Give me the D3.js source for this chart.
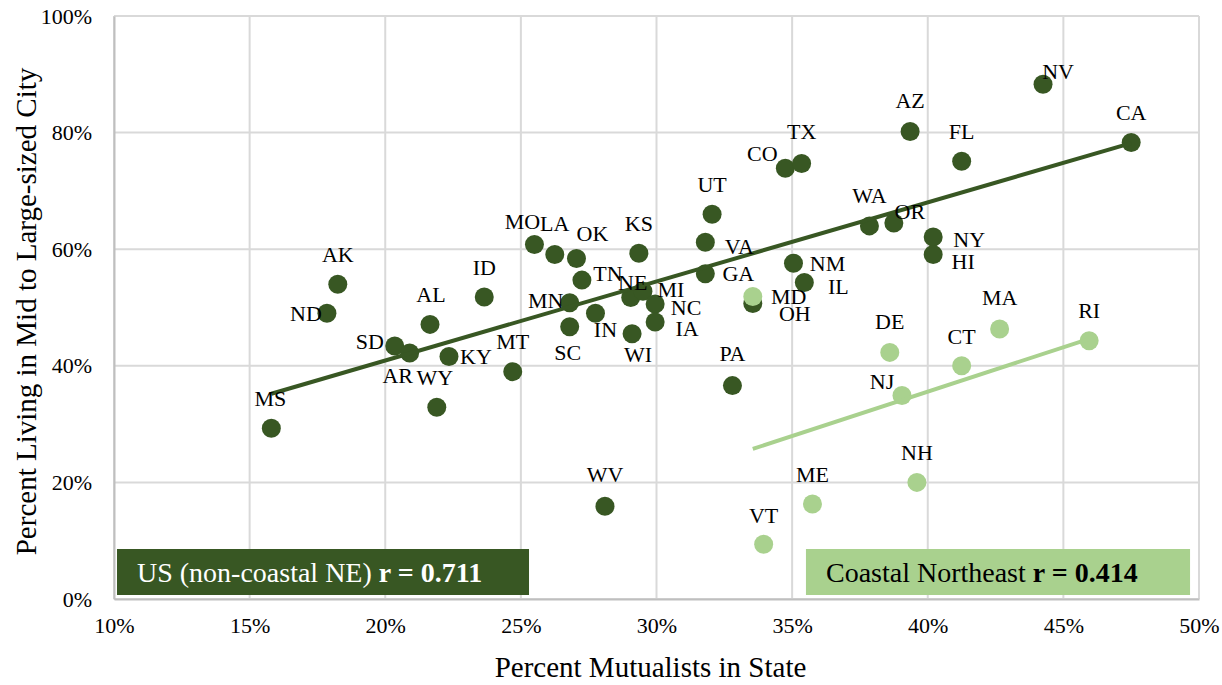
<!DOCTYPE html>
<html>
<head>
<meta charset="utf-8">
<script src="https://cdn.jsdelivr.net/npm/d3@7"></script>
<style>
  body { margin: 0; background: #fff; }
</style>
</head>
<body>
<div id="viz-container"></div>
<script>
// data (percent values)
let states = ['MS','ND','AK','SD','AR','AL','WY','KY','ID','MT','MO','LA','OK','KS','TN','NE','MI','MN','SC','IN','NC','IA','WI','UT','VA','GA','OH','PA','CO','TX','AZ','FL','WA','OR','NY','HI','NM','IL','NV','CA','WV',
              'MD','DE','CT','MA','RI','NJ','NH','ME','VT'];
let mutualists = [15.8,17.85,18.25,20.35,20.9,21.65,21.9,22.35,23.65,24.7,25.5,26.25,27.05,29.35,27.25,29.05,29.5,26.8,26.8,27.75,29.95,29.95,29.1,32.05,31.8,31.8,33.55,32.8,34.75,35.35,39.35,41.25,37.85,38.75,40.2,40.2,35.05,35.45,44.25,47.5,28.1,
              33.55,38.6,41.25,42.65,45.95,39.05,39.6,35.75,33.95];
let bigCity = [29.3,49.0,54.0,43.4,42.2,47.1,32.9,41.6,51.8,39.0,60.8,59.1,58.4,59.3,54.7,51.7,52.8,50.8,46.7,49.0,50.6,47.5,45.5,66.0,61.2,55.8,50.7,36.6,73.9,74.7,80.2,75.1,64.0,64.5,62.1,59.1,57.6,54.3,88.3,78.3,15.9,
              51.9,42.3,40.0,46.3,44.3,34.9,20.0,16.3,9.4];
let coastalNE = ['MD','DE','CT','MA','RI','NJ','NH','ME','VT'];
let groupNames = ['US (non-coastal NE) ', 'Coastal Northeast '];
let groupR = ['r = 0.711', 'r = 0.414'];
let xTicks = [10,15,20,25,30,35,40,45,50];
let yTicks = [0,20,40,60,80,100];

// where each data label sits relative to its dot (layout only)
let labelOffset = {
    MS:[-1,-30], ND:[-21,0], AK:[0,-30], SD:[-25,-5], AR:[-12,22], AL:[1,-30], WY:[-2,-30], KY:[27,0],
    ID:[0,-30], MT:[0,-30], MO:[-12,-23], LA:[0,-31], OK:[16,-25], KS:[0,-30], TN:[26,-7], NE:[2,-15],
    MI:[28,-2], MN:[-24,-3], SC:[-2,26], IN:[10,16], NC:[31,3], IA:[32,6], WI:[6,21], UT:[0,-30],
    VA:[34,4], GA:[33,0], MD:[36,0], OH:[42,10], PA:[0,-32], CO:[-23,-15], TX:[0,-32], AZ:[0,-31],
    FL:[0,-30], WA:[0,-31], OR:[16,-12], NY:[36,2], HI:[30,7], NM:[34,0], IL:[34,4], NV:[15,-13],
    CA:[0,-30], WV:[0,-32], DE:[0,-31], CT:[0,-30], MA:[0,-32], RI:[0,-30], NJ:[-20,-14], NH:[0,-30],
    ME:[0,-30], VT:[0,-29]
};

let font = "'Liberation Serif', 'Times New Roman', serif";
let dark = '#385723';
let light = '#a9d18e';
let W = 1222, H = 685;
let margin = {left: 114, right: 23, top: 16, bottom: 86};

let viz = d3.select('#viz-container')
    .append('svg')
    .attr('width', W)
    .attr('height', H);

let x = d3.scaleLinear().domain([10, 50]).range([margin.left, W - margin.right]);
let y = d3.scaleLinear().domain([0, 100]).range([H - margin.bottom, margin.top]);

let data = states.map((s, i) => ({
    state: s,
    x: mutualists[i],
    y: bigCity[i],
    group: coastalNE.includes(s) ? 1 : 0
}));

// gridlines
viz.append('g').selectAll('line').data(xTicks).enter()
    .append('line')
    .attr('x1', d => x(d)).attr('x2', d => x(d))
    .attr('y1', y(0)).attr('y2', y(100))
    .attr('stroke', '#d9d9d9').attr('stroke-width', 2);
viz.append('g').selectAll('line').data(yTicks).enter()
    .append('line')
    .attr('x1', x(10)).attr('x2', x(50))
    .attr('y1', d => y(d)).attr('y2', d => y(d))
    .attr('stroke', '#d9d9d9').attr('stroke-width', 2);

// axes
let xAxis = viz.append('g')
    .attr('transform', `translate(0,${y(0)})`)
    .call(d3.axisBottom(x).tickValues(xTicks).tickSize(0).tickPadding(18).tickFormat(d => d + '%'));
let yAxis = viz.append('g')
    .attr('transform', `translate(${x(10)},0)`)
    .call(d3.axisLeft(y).tickValues(yTicks).tickSize(0).tickPadding(22).tickFormat(d => d + '%'));
[xAxis, yAxis].forEach(a => {
    a.attr('font-family', null);
    a.select('.domain').attr('stroke', '#bfbfbf').attr('stroke-width', 2);
    a.selectAll('text').attr('font-size', 22).attr('fill', '#000');
});

// dots, dark series first
viz.append('g').selectAll('circle').data(data.filter(d => d.group == 0).concat(data.filter(d => d.group == 1))).enter()
    .append('circle')
    .attr('cx', d => x(d.x))
    .attr('cy', d => y(d.y))
    .attr('r', 9.5)
    .attr('fill', d => d.group ? light : dark);

// linear trendlines from each group's own points
[0, 1].forEach(g => {
    let pts = data.filter(d => d.group == g);
    let mx = d3.mean(pts, d => d.x), my = d3.mean(pts, d => d.y);
    let slope = d3.sum(pts, d => (d.x - mx) * (d.y - my)) / d3.sum(pts, d => (d.x - mx) ** 2);
    let ext = d3.extent(pts, d => d.x);
    viz.append('line')
        .attr('x1', x(ext[0])).attr('y1', y(my + slope * (ext[0] - mx)))
        .attr('x2', x(ext[1])).attr('y2', y(my + slope * (ext[1] - mx)))
        .attr('stroke', g ? light : dark)
        .attr('stroke-width', 4);
});

// data labels
viz.append('g').selectAll('text').data(data).enter()
    .append('text')
    .attr('x', d => x(d.x) + labelOffset[d.state][0])
    .attr('y', d => y(d.y) + labelOffset[d.state][1])
    .attr('text-anchor', 'middle')
    .attr('dy', '0.35em')
    .attr('font-size', 22)
    .text(d => d.state);

// legend boxes
let boxes = [
    {x0: 10.11, x1: 25.3, fill: dark, color: '#fff'},
    {x0: 35.51, x1: 49.67, fill: light, color: '#000'}
];
boxes.forEach((b, i) => {
    let bx = x(b.x0);
    viz.append('rect')
        .attr('x', bx).attr('y', 549)
        .attr('width', x(b.x1) - bx).attr('height', 46)
        .attr('fill', b.fill);
    let t = viz.append('text')
        .attr('x', bx + 20).attr('y', 582)
        .attr('font-size', 28)
        .attr('fill', b.color);
    t.append('tspan').text(groupNames[i]);
    t.append('tspan').attr('font-weight', 'bold').text(groupR[i]);
});

// axis titles
viz.append('text')
    .attr('x', (x(10) + x(50)) / 2 - 6)
    .attr('y', 677)
    .attr('text-anchor', 'middle')
    .attr('font-size', 29)
    .text('Percent Mutualists in State');
viz.append('text')
    .attr('transform', `translate(36,${(y(0) + y(100)) / 2 + 4}) rotate(-90)`)
    .attr('text-anchor', 'middle')
    .attr('font-size', 29)
    .text('Percent Living in Mid to Large-sized City');

// serif on every text
viz.selectAll('text').style('font-family', font);
</script>
</body>
</html>
